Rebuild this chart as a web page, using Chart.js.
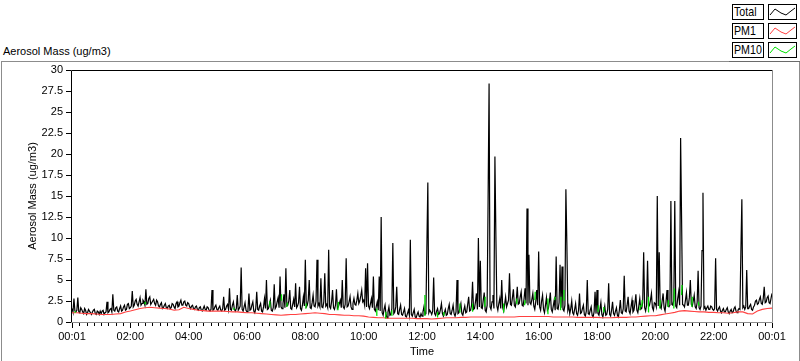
<!DOCTYPE html>
<html><head><meta charset="utf-8">
<script src="https://cdn.jsdelivr.net/npm/chart.js@4.4.1/dist/chart.umd.min.js"></script>
<style>
html,body{margin:0;padding:0;background:#fff;}
#wrap{position:relative;width:800px;height:361px;overflow:hidden;font-family:"Liberation Sans",Arial,sans-serif;color:#000;}
#frame{position:absolute;left:1px;top:61px;width:799px;height:320px;box-sizing:border-box;border:1px solid #8c8c8c;border-bottom:none;}
#frameDark{position:absolute;left:729px;top:61px;width:71px;height:1px;background:#6a6a6a;}
#title{position:absolute;left:3px;top:45px;font-size:11px;white-space:nowrap;}
.lbl{position:absolute;left:732px;width:32px;height:16px;box-sizing:border-box;border:1px solid #000;background:#fff;font-size:13px;line-height:14px;padding-left:1px;white-space:nowrap;overflow:hidden;}
.lbl span{display:inline-block;transform:scaleX(0.82);transform-origin:0 50%;}
.smp{position:absolute;left:768px;width:29px;height:16px;box-sizing:border-box;border:1px solid #000;background:#fff;}
.smp svg{position:absolute;left:0;top:0;}
canvas{position:absolute;left:0;top:0;}
</style></head>
<body><div id="wrap">
<div id="frame"></div><div id="frameDark"></div>
<div id="title">Aerosol Mass (ug/m3)</div>
<div class="lbl" style="top:4px"><span>Total</span></div>
<div class="smp" style="top:4px"><svg width="27" height="14"><polyline points="1,10 6,4 12,8 17,10 22,6 26,3" fill="none" stroke="#000" stroke-width="1"/></svg></div>
<div class="lbl" style="top:23px"><span>PM1</span></div>
<div class="smp" style="top:23px"><svg width="27" height="14"><polyline points="1,10 6,4 12,8 17,10 22,6 26,3" fill="none" stroke="#ff4040" stroke-width="1"/></svg></div>
<div class="lbl" style="top:42px"><span>PM10</span></div>
<div class="smp" style="top:42px"><svg width="27" height="14"><polyline points="1,10 6,4 12,8 17,10 22,6 26,3" fill="none" stroke="#00e000" stroke-width="1"/></svg></div>
<canvas id="c" width="800" height="361"></canvas>
</div>
<script>
// Total aerosol mass, one value every 2 minutes from 00:01 (minute 0) to 00:01 next day (minute 1440); one row per hour
const totalValues = [
 1.6,1.2,2.8,1.3,1.2,1.4,2.9,1.2,1.1,1.7,1.5,1.2,1.0,1.6,1.4,0.9,1.1,1.5,1.3,1.1,0.9,1.2,1.4,1.5,1.0,0.9,1.3,1.2,0.9,1.3,
 1.0,1.3,1.4,0.9,1.1,1.2,2.4,1.1,1.2,1.5,1.6,1.2,3.3,1.4,1.3,1.7,1.8,1.3,1.2,1.6,1.9,1.3,1.4,1.8,2.0,1.4,1.5,2.1,2.2,1.6,
 1.7,1.9,3.7,1.8,2.0,2.5,2.7,2.1,1.9,2.4,2.9,2.0,2.2,2.6,2.4,2.0,3.9,2.1,2.2,2.8,3.0,2.1,2.3,2.5,2.7,2.2,2.0,2.6,2.4,1.9,
 1.8,2.1,2.3,1.6,1.7,2.0,2.2,1.7,1.6,1.9,2.0,1.6,1.7,2.2,2.1,1.8,1.6,2.2,2.4,1.8,1.9,2.3,2.6,2.0,2.0,2.4,2.5,2.0,1.9,2.3,
 2.2,1.8,1.6,1.9,2.0,1.6,1.5,1.8,1.9,1.5,1.4,1.7,1.8,1.4,1.3,1.6,1.9,1.5,1.4,1.8,1.7,1.4,1.3,1.5,3.8,1.4,1.5,1.8,2.0,1.5,
 1.4,1.7,1.9,1.4,1.3,1.6,3.0,1.4,1.5,1.9,2.1,1.5,4.0,1.5,1.4,2.0,2.4,1.5,1.3,1.6,3.2,1.4,1.6,1.9,6.5,1.5,1.3,1.8,2.3,1.4,
 1.2,1.5,3.4,1.4,1.5,2.0,2.4,1.3,1.1,1.6,3.6,1.5,1.4,1.9,2.2,1.3,1.2,1.8,2.8,1.6,5.0,1.5,1.6,2.1,2.6,1.4,1.3,1.7,4.5,1.6,
 1.8,2.4,2.9,1.7,5.4,1.8,1.6,2.2,3.3,1.7,6.4,1.9,2.0,2.5,3.8,1.6,1.5,2.1,2.7,1.8,4.6,1.7,1.9,2.3,4.2,1.6,1.4,2.0,3.0,1.9,
 7.4,1.8,2.0,2.6,5.0,1.7,1.6,2.3,3.2,1.9,1.8,2.5,7.4,1.9,2.2,1.8,5.2,1.8,1.7,2.4,5.8,1.9,2.1,1.7,8.6,1.8,1.6,2.4,3.8,1.7,
 1.5,2.0,3.9,1.6,1.8,2.2,2.6,1.7,5.0,1.8,1.6,2.1,7.6,1.8,1.9,2.4,3.0,1.8,1.5,2.2,2.8,2.1,2.0,2.6,3.4,2.2,2.5,3.1,3.8,2.4,
 2.6,2.0,6.4,1.8,7.0,1.9,1.6,2.2,2.8,1.7,5.4,1.5,1.3,1.9,2.4,1.4,5.4,1.3,12.5,1.1,0.8,1.5,2.0,0.9,0.5,1.2,1.8,0.8,0.9,1.6,
 9.4,1.0,1.2,1.8,4.2,1.0,0.9,1.5,2.0,0.9,0.8,1.2,1.6,0.7,0.6,1.0,1.4,0.8,9.8,0.9,0.7,1.1,1.5,0.6,0.5,0.9,1.2,0.7,0.6,1.0,
 0.7,1.2,1.8,0.9,1.0,8.8,16.6,1.1,1.4,1.2,0.9,1.3,5.3,1.0,0.8,1.3,1.6,0.9,1.0,1.5,2.2,1.0,0.7,1.1,1.5,0.8,0.9,1.6,2.1,1.0,
 0.9,1.4,2.0,1.0,0.7,1.2,5.0,1.0,1.1,1.7,2.2,1.0,0.8,1.4,1.9,1.1,1.2,2.1,3.0,1.3,1.4,2.0,4.8,1.5,1.6,2.4,3.4,1.5,10.0,1.8,
 7.3,1.7,1.6,2.6,3.5,1.4,1.2,2.0,14.7,28.4,1.8,1.5,2.4,3.2,1.6,19.7,10.2,1.9,1.4,2.2,2.8,1.6,5.0,1.7,1.3,2.1,3.0,1.8,2.2,2.6,
 5.8,2.1,2.0,2.9,3.9,2.0,1.8,2.6,4.2,2.1,2.2,3.0,3.6,2.0,1.9,2.8,4.0,2.2,13.5,2.0,8.0,2.3,2.1,2.7,3.4,1.9,1.5,2.4,3.8,2.0,
 8.4,1.8,1.4,2.5,3.2,1.5,1.1,2.0,2.9,1.4,1.6,2.4,3.5,1.5,1.2,1.9,2.6,1.4,7.8,1.6,1.5,2.3,6.8,1.7,6.6,1.5,1.3,2.0,15.8,9.3,
 1.4,1.9,1.0,1.6,2.5,1.1,0.9,1.5,2.2,1.0,0.8,1.4,3.4,1.0,1.1,1.6,2.0,0.9,0.7,1.3,5.0,1.0,0.9,1.4,1.8,0.8,0.6,1.2,3.6,1.0,
 3.8,1.0,0.8,1.5,2.3,0.9,0.6,1.2,1.9,0.8,0.9,1.5,4.6,0.9,0.7,1.4,2.4,1.0,0.8,1.3,1.7,0.8,0.6,1.4,2.6,1.1,1.0,1.6,5.5,1.3,
 1.2,2.0,3.0,1.3,1.0,1.8,2.6,1.2,1.4,2.2,3.3,1.4,1.1,1.9,2.8,1.5,1.6,2.3,8.3,1.7,1.3,2.0,7.3,1.8,2.0,2.6,3.4,1.7,1.4,2.3,
 2.2,1.8,15.0,1.9,8.3,1.8,1.6,2.5,3.4,1.7,1.3,2.4,3.8,1.9,1.8,2.0,14.4,2.1,2.0,2.6,14.4,1.9,1.7,2.8,3.6,2.0,21.9,12.3,2.1,2.0,
 1.8,2.6,3.5,2.0,2.0,2.9,5.0,2.1,1.9,2.5,3.2,1.8,1.6,2.3,6.1,1.7,1.5,1.9,8.5,15.4,1.6,1.8,1.4,1.7,1.9,1.5,1.5,1.9,1.8,1.5,
 1.4,1.6,7.6,1.5,1.3,1.6,1.8,1.3,1.1,1.4,1.6,1.2,1.2,1.5,1.7,1.2,1.0,1.3,1.5,1.1,1.2,1.6,1.8,1.3,1.1,1.4,1.6,1.5,8.3,14.6,
 1.7,1.9,1.5,1.8,6.2,1.6,1.6,1.9,2.1,1.5,1.4,1.8,2.0,2.5,2.6,2.1,2.2,2.7,3.0,2.2,2.1,2.8,4.2,2.3,2.4,2.9,3.1,2.3,2.2,2.8,
 3.4
];
// PM1, one value every 10 minutes
const pm1Values = [
 1.1,1.1,1.05,1.0,1.0,0.95,
 0.9,0.9,0.9,0.95,1.0,1.2,
 1.3,1.45,1.6,1.7,1.75,1.7,
 1.65,1.6,1.55,1.4,1.45,1.75,
 1.6,1.5,1.4,1.35,1.3,1.3,
 1.3,1.3,1.25,1.2,1.2,1.15,
 1.1,1.1,1.05,1.0,0.95,0.9,
 0.85,0.8,0.85,0.9,0.9,0.95,
 1.0,1.05,1.1,1.05,1.0,0.9,
 0.9,0.85,0.8,0.8,0.75,0.75,
 0.7,0.6,0.55,0.5,0.5,0.45,
 0.45,0.45,0.45,0.45,0.45,0.4,
 0.4,0.4,0.35,0.4,0.45,0.5,
 0.5,0.5,0.55,0.55,0.6,0.6,
 0.6,0.6,0.6,0.6,0.6,0.6,
 0.6,0.6,0.65,0.65,0.65,0.65,
 0.65,0.65,0.65,0.6,0.6,0.6,
 0.6,0.6,0.55,0.55,0.55,0.55,
 0.55,0.5,0.5,0.5,0.55,0.55,
 0.55,0.6,0.6,0.65,0.7,0.75,
 0.75,0.85,0.95,1.05,1.15,1.3,
 1.35,1.3,1.25,1.2,1.2,1.15,
 1.15,1.1,1.1,1.05,1.1,1.2,
 1.2,1.0,0.95,1.3,1.5,1.6,
 1.65
];
// PM10: the stretches where it shows apart from Total (minute, low, high)
const pm10Start = [6,150,332,406,430,442,481,547,626,645,657,725,751,764,797,823,849,887,914,931,952,978,993,1005,1011,1082,1093,1168,1172,1185,1209,1226,1238,1254,1275,1288];
const pm10Low   = [1.1,2.1,1.5,1.8,2.6,1.8,1.6,1.4,0.8,0.4,0.8,0.8,0.6,0.8,1.2,1.3,1.8,1.2,2.2,2.0,2.6,1.0,2.6,1.4,2.6,1.2,1.2,1.4,1.8,1.2,1.6,1.8,1.6,3.2,1.8,2.0];
const pm10High  = [1.3,2.4,1.7,2.5,3.3,2.3,2.2,2.4,1.6,1.2,1.4,3.2,1.2,1.2,2.2,2.2,3.0,2.2,2.8,2.6,3.6,2.8,3.0,3.0,3.8,2.0,1.8,2.0,2.6,3.0,2.6,2.6,4.0,4.4,3.0,2.4];

const xTickMinutes = [0,120,240,360,480,600,720,840,960,1080,1200,1320,1440];
const xTickLabels = ['00:01','02:00','04:00','06:00','08:00','10:00','12:00','14:00','16:00','18:00','20:00','22:00','00:01'];
const yTickValues = [0,2.5,5,7.5,10,12.5,15,17.5,20,22.5,25,27.5,30];

const TOTAL_STEP = 2, PM1_STEP = 10, MINOR_STEP = 15;
const totalData = totalValues.map((v,i)=>({x:i*TOTAL_STEP,y:v}));
const pm1Data = pm1Values.map((v,i)=>({x:i*PM1_STEP,y:v}));
const pm10Data = [];
pm10Start.forEach((m,i)=>{ pm10Data.push({x:m,y:pm10Low[i]},{x:m+1,y:pm10High[i]},{x:m+1,y:null}); });

const FONT = {family:'"Liberation Sans", Arial, sans-serif', size:11};
Chart.defaults.color = '#000';

const framePlugin = {
  id:'frame',
  afterDraw(chart){
    const ctx = chart.ctx, a = chart.chartArea;
    const xs = chart.scales.x, ys = chart.scales.y;
    const L = Math.round(a.left)-0.5, R = Math.round(a.right)+0.5, T = Math.round(a.top)+0.5, B = Math.round(a.bottom)+0.5;
    ctx.save();
    ctx.lineWidth = 1;
    ctx.strokeStyle = '#000';
    ctx.beginPath(); ctx.moveTo(L, B); ctx.lineTo(L, T); ctx.lineTo(R, T); ctx.stroke();
    ctx.strokeStyle = '#8c8c8c';
    ctx.beginPath(); ctx.moveTo(R, T); ctx.lineTo(R, B); ctx.lineTo(L, B); ctx.stroke();
    ctx.strokeStyle = '#000';
    ctx.beginPath();
    for (let m = xs.min; m <= xs.max; m += MINOR_STEP) {
      const px = Math.round(xs.getPixelForValue(m)) + 0.5;
      const len = xTickMinutes.includes(m) ? 5 : 3;
      ctx.moveTo(px, B + 0.5); ctx.lineTo(px, B + 0.5 + len);
    }
    yTickValues.forEach(v=>{
      const py = Math.round(ys.getPixelForValue(v)) + 0.5;
      ctx.moveTo(L - 0.5, py); ctx.lineTo(L - 5.5, py);
    });
    ctx.stroke();
    ctx.restore();
  }
};

new Chart(document.getElementById('c'), {
  type:'line',
  data:{datasets:[
    {label:'PM10', data:pm10Data, borderColor:'#00e000', borderWidth:1.3, pointRadius:0, spanGaps:false, order:0},
    {label:'PM1', data:pm1Data, borderColor:'#ff4040', borderWidth:1.1, pointRadius:0, order:1},
    {label:'Total', data:totalData, borderColor:'#000', borderWidth:1.2, pointRadius:0, order:2}
  ]},
  options:{
    responsive:false, animation:false, events:[],
    layout:{padding:{left:0, top:70, right:28, bottom:0}},
    plugins:{legend:{display:false}, tooltip:{enabled:false}},
    elements:{line:{tension:0}},
    scales:{
      x:{type:'linear', min:0, max:1440,
         afterBuildTicks:s=>{ s.ticks = xTickMinutes.map(v=>({value:v})); },
         afterFit:s=>{ s.height = 39; },
         grid:{display:false, drawTicks:false}, border:{display:false},
         ticks:{autoSkip:false, maxRotation:0, padding:8, font:FONT, color:'#000', callback:(v,i)=>xTickLabels[i]},
         title:{display:true, text:'Time', font:FONT, color:'#000', padding:{top:0,bottom:2}}
      },
      y:{type:'linear', min:0, max:30,
         afterBuildTicks:s=>{ s.ticks = yTickValues.map(v=>({value:v})); },
         afterFit:s=>{ s.width = 72; },
         grid:{display:false, drawTicks:false}, border:{display:false},
         ticks:{padding:9, font:FONT, color:'#000', callback:v=>String(v)},
         title:{display:true, text:'Aerosol Mass (ug/m3)', font:FONT, color:'#000', padding:{top:26,bottom:0}}
      }
    }
  },
  plugins:[framePlugin]
});
</script>
</body></html>
